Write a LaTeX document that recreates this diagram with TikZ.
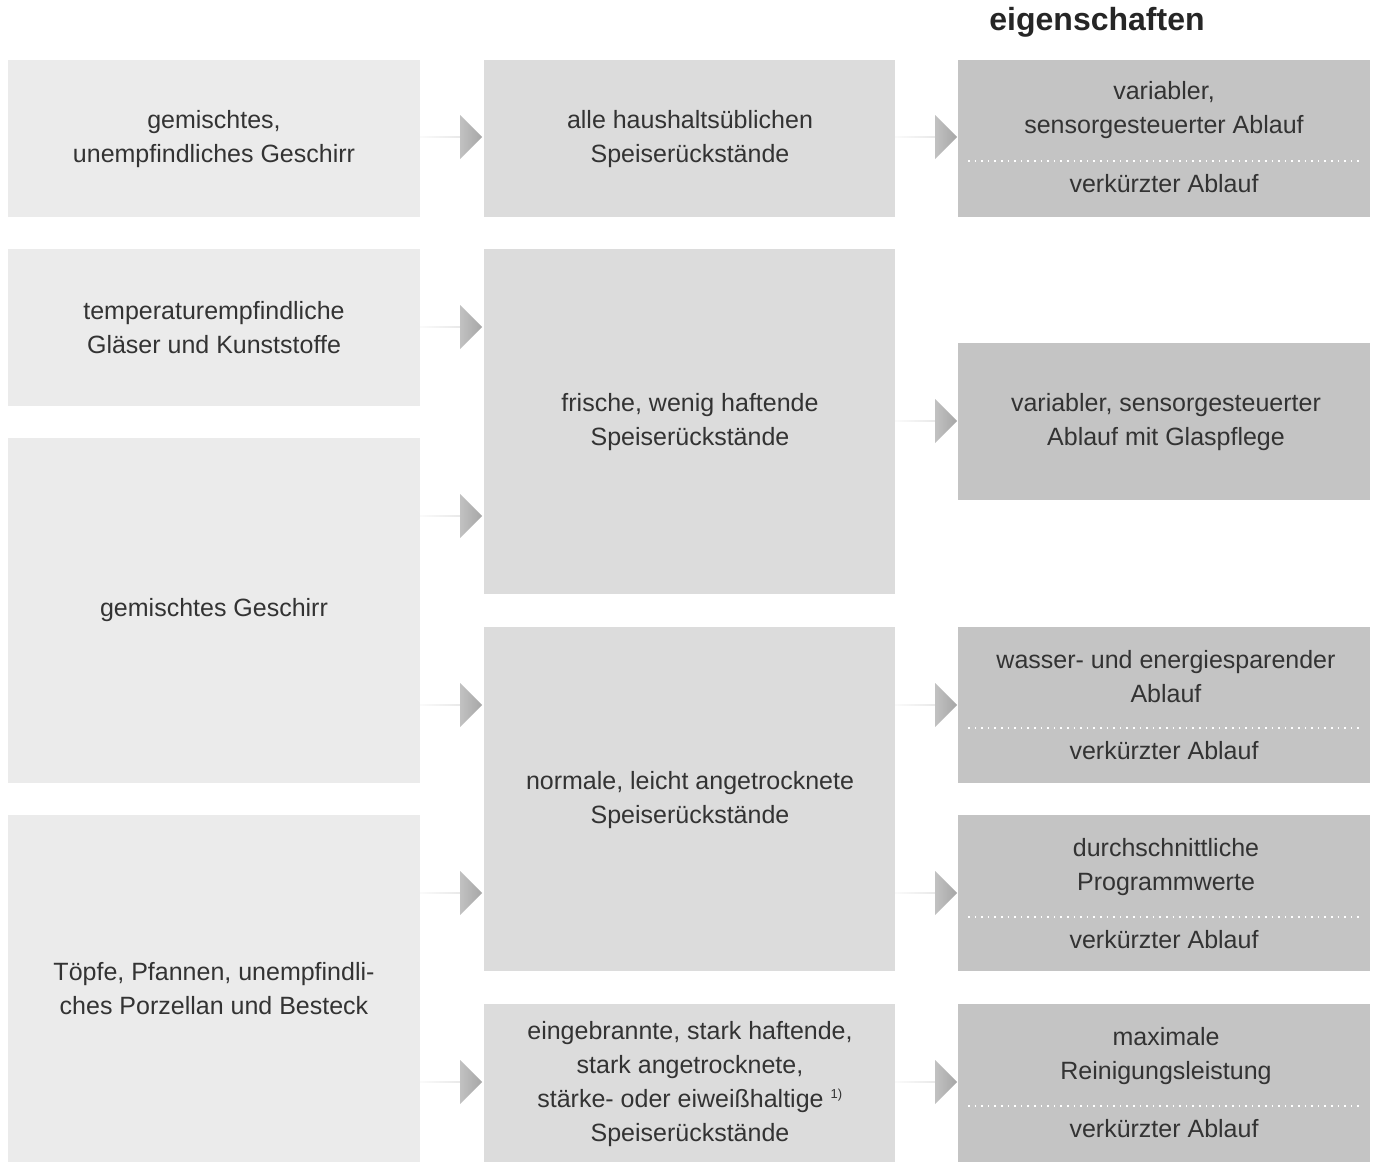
\documentclass[tikz,border=0pt]{standalone}
\usepackage{fontspec}
\setmainfont{Liberation Sans}
\usetikzlibrary{shapes.arrows}
\definecolor{ca}{HTML}{EBEBEB}
\definecolor{cb}{HTML}{DCDCDC}
\definecolor{cc}{HTML}{C4C4C4}
\definecolor{tx}{HTML}{333333}
\begin{document}
\begin{tikzpicture}[x=1pt,y=-1pt,
 t/.style={text=tx,font=\fontsize{25}{34}\selectfont,align=center},
 arr/.style={single arrow,minimum height=62pt,minimum width=44pt,single arrow head extend=10pt,inner sep=0pt,
   left color=ca!60!white,right color=black!35,draw=none},
 sep/.style={white,line width=1.6pt,dash pattern=on 1.6pt off 5pt}]
\useasboundingbox[fill=white] (0,0) rectangle (1381,1165);
\node[font=\fontsize{32}{36}\selectfont\bfseries,text=black!85] (title) at (1097,22) {eigenschaften};
% column 1
\fill[ca] (8,60) rectangle (420,217); \node[t] (a1) at (214,139) {gemischtes,\\unempfindliches Geschirr};
\fill[ca] (8,249) rectangle (420,406); \node[t] (a2) at (214,328) {temperaturempfindliche\\Gläser und Kunststoffe};
\fill[ca] (8,438) rectangle (420,783); \node[t] (a3) at (214,610) {gemischtes Geschirr};
\fill[ca] (8,815) rectangle (420,1162); \node[t] (a4) at (214,989) {Töpfe, Pfannen, unempfindli-\\ches Porzellan und Besteck};
% column 2
\fill[cb] (484,60) rectangle (895,217); \node[t] (b1) at (690,139) {alle haushaltsüblichen\\Speiserückstände};
\fill[cb] (484,249) rectangle (895,594); \node[t] (b2) at (690,422) {frische, wenig haftende\\Speiserückstände};
\fill[cb] (484,627) rectangle (895,971); \node[t] (b3) at (690,800) {normale, leicht angetrocknete\\Speiserückstände};
\fill[cb] (484,1004) rectangle (895,1162); \node[t] (b4) at (690,1084) {eingebrannte, stark haftende,\\stark angetrocknete,\\stärke- oder eiweißhaltige \textsuperscript{\fontsize{13}{13}\selectfont 1)}\\Speiserückstände};
% column 3
\fill[cc] (958,60) rectangle (1370,217); \node[t] (c1) at (1164,110) {variabler,\\sensorgesteuerter Ablauf};
\draw[sep] (968,161) -- (1362,161); \node[t] (c1b) at (1164,184) {verkürzter Ablauf};
\fill[cc] (958,343) rectangle (1370,500); \node[t] (c2) at (1166,422) {variabler, sensorgesteuerter\\Ablauf mit Glaspflege};
\fill[cc] (958,627) rectangle (1370,783); \node[t] (c3) at (1166,677) {wasser- und energiesparender\\Ablauf};
\draw[sep] (968,728) -- (1362,728); \node[t] (c3b) at (1164,751) {verkürzter Ablauf};
\fill[cc] (958,815) rectangle (1370,971); \node[t] (c4) at (1166,867) {durchschnittliche\\Programmwerte};
\draw[sep] (968,917) -- (1362,917); \node[t] (c4b) at (1164,940) {verkürzter Ablauf};
\fill[cc] (958,1004) rectangle (1370,1162); \node[t] (c5) at (1166,1056) {maximale\\Reinigungsleistung};
\draw[sep] (968,1106) -- (1362,1106); \node[t] (c5b) at (1164,1129) {verkürzter Ablauf};
% arrows
\foreach \y [count=\i] in {137,327,516,705,893,1082}
  \node[arr] (p\i) at (451,\y) {};
\foreach \y [count=\i] in {137,421,705,893,1082}
  \node[arr] (q\i) at (926,\y) {};
\end{tikzpicture}
\end{document}
